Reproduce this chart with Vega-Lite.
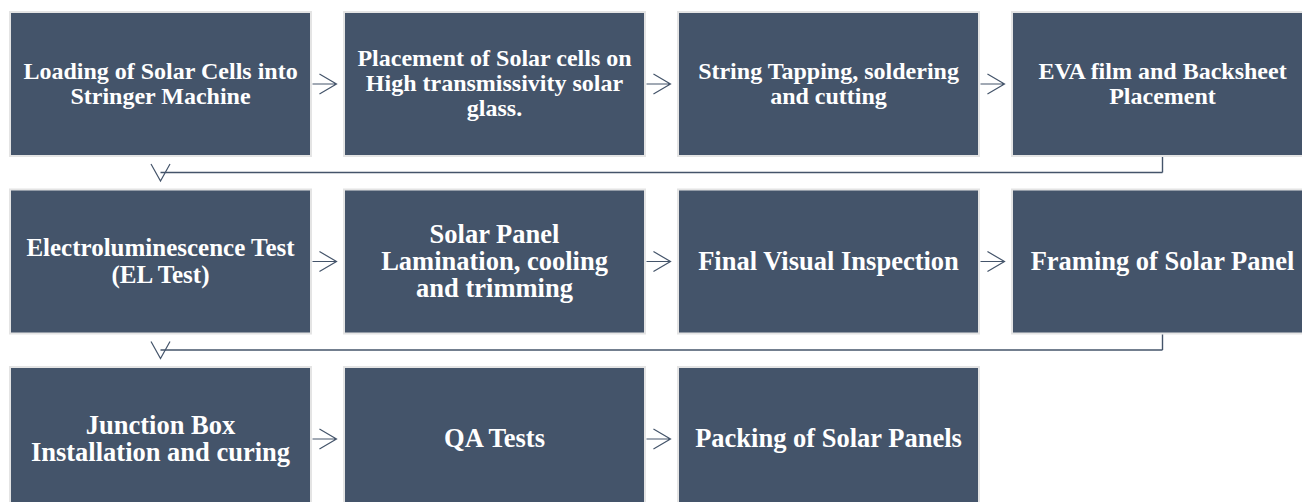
{
  "$schema": "https://vega.github.io/schema/vega-lite/v6.json",
  "width": 1302,
  "height": 502,
  "padding": 0,
  "autosize": {"type": "none"},
  "background": "white",
  "config": {"view": {"stroke": null}},
  "data": {
    "values": [
      {"step": 1, "row": 1, "col": 1, "label": "Loading of Solar Cells into\nStringer Machine"},
      {"step": 2, "row": 1, "col": 2, "label": "Placement of Solar cells on\nHigh transmissivity solar\nglass."},
      {"step": 3, "row": 1, "col": 3, "label": "String Tapping, soldering\nand cutting"},
      {"step": 4, "row": 1, "col": 4, "label": "EVA film and Backsheet\nPlacement"},
      {"step": 5, "row": 2, "col": 1, "label": "Electroluminescence Test\n(EL Test)"},
      {"step": 6, "row": 2, "col": 2, "label": "Solar Panel\nLamination, cooling\nand trimming"},
      {"step": 7, "row": 2, "col": 3, "label": "Final Visual Inspection"},
      {"step": 8, "row": 2, "col": 4, "label": "Framing of Solar Panel"},
      {"step": 9, "row": 3, "col": 1, "label": "Junction Box\nInstallation and curing"},
      {"step": 10, "row": 3, "col": 2, "label": "QA Tests"},
      {"step": 11, "row": 3, "col": 3, "label": "Packing of Solar Panels"}
    ]
  },
  "encoding": {
    "x": {"field": "col", "type": "quantitative", "scale": {"domain": [1, 4], "range": [160.5, 1162.5], "nice": false, "zero": false}, "axis": null},
    "y": {"field": "row", "type": "quantitative", "scale": {"domain": [1, 3], "range": [84, 439], "nice": false, "zero": false}, "axis": null}
  },
  "layer": [
    {
      "mark": {"type": "rect", "fill": "#44546A", "stroke": "#E4E4E4", "strokeWidth": 2, "xOffset": -150.5, "x2Offset": 150.5, "yOffset": -72, "y2Offset": 72},
      "encoding": {"x2": {"field": "col"}, "y2": {"field": "row"}}
    },
    {
      "mark": {
        "type": "text",
        "font": "Liberation Serif",
        "fontWeight": "bold",
        "fontSize": {"expr": "datum.row == 1 ? 24 : (datum.step == 5 ? 25 : 26.5)"},
        "lineHeight": {"expr": "datum.row == 1 ? 25 : 27"},
        "dy": {"expr": "-(length(split(datum.label, '\\n')) - 1) * (datum.row == 1 ? 12.5 : 13.5)"},
        "fill": "#FFFFFF",
        "align": "center",
        "baseline": "middle",
        "lineBreak": "\n"
      },
      "encoding": {"text": {"field": "label"}}
    },
    {
      "transform": [{"filter": "datum.col < 4 && datum.step < 11"}],
      "mark": {"type": "point", "shape": "M-1,0L1,0M-0.42,-0.83L1,0L-0.42,0.83", "filled": false, "stroke": "#44546A", "strokeWidth": 1.2, "opacity": 1, "size": 576, "xOffset": 164}
    },
    {
      "transform": [{"filter": "datum.col == 4"}],
      "mark": {"type": "rule", "stroke": "#44546A", "strokeWidth": 1.4, "yOffset": 88.5},
      "encoding": {"x2": {"datum": 1}}
    },
    {
      "transform": [{"filter": "datum.col == 4"}],
      "mark": {"type": "rule", "stroke": "#44546A", "strokeWidth": 1.4, "yOffset": 73, "y2Offset": 88.5},
      "encoding": {"y2": {"field": "row"}}
    },
    {
      "transform": [{"filter": "datum.col == 4"}],
      "mark": {"type": "point", "shape": "M-1,-0.9L0,0.9L1,-0.9", "filled": false, "stroke": "#44546A", "strokeWidth": 1.2, "opacity": 1, "size": 361, "yOffset": 88.5},
      "encoding": {"x": {"datum": 1, "type": "quantitative"}}
    }
  ]
}
